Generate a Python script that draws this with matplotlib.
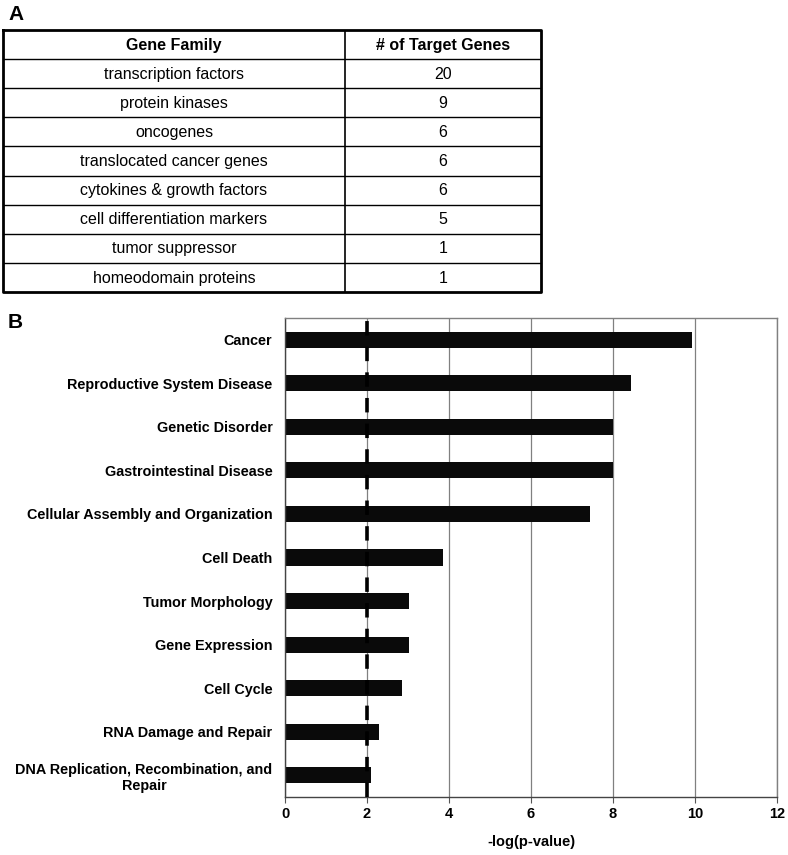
import matplotlib.pyplot as plt
import numpy as np

plt.rcParams['font.family'] = ['Liberation Sans', 'DejaVu Sans']

# Panel A table data
families = ["transcription factors", "protein kinases", "oncogenes",
            "translocated cancer genes", "cytokines & growth factors",
            "cell differentiation markers", "tumor suppressor",
            "homeodomain proteins"]
target_counts = [20, 9, 6, 6, 6, 5, 1, 1]
table_header = ["Gene Family", "# of Target Genes"]

# Panel B bar data
categories = ["Cancer", "Reproductive System Disease", "Genetic Disorder",
              "Gastrointestinal Disease", "Cellular Assembly and Organization",
              "Cell Death", "Tumor Morphology", "Gene Expression", "Cell Cycle",
              "RNA Damage and Repair",
              "DNA Replication, Recombination, and\nRepair"]
neg_log_p = [9.93, 8.44, 8.0, 8.0, 7.44, 3.85, 3.03, 3.03, 2.86, 2.29, 2.1]
threshold = 2.0
x_ticks = [0, 2, 4, 6, 8, 10, 12]

W, H = 788, 855
fig = plt.figure(figsize=(W / 100, H / 100), dpi=100)

# ---- Panel A: table ----
tax = fig.add_axes([3 / W, (H - 292) / H, 538 / W, 262 / H])
nrows = len(families) + 1
tax.set_xlim(0, 1)
tax.set_ylim(nrows, 0)
tax.axis('off')
col_split = (345 - 3) / 538
for r in range(1, nrows):
    tax.plot([0, 1], [r, r], color='black', lw=1.0)
tax.plot([col_split, col_split], [0, nrows], color='black', lw=1.2)
tax.plot([0, 1, 1, 0, 0], [0, 0, nrows, nrows, 0], color='black', lw=2.0,
         clip_on=False)

tax.text(col_split / 2, 0.52, table_header[0], ha='center', va='center',
         fontsize=11.5, fontweight='bold')
tax.text((1 + col_split) / 2, 0.52, table_header[1], ha='center', va='center',
         fontsize=11.5, fontweight='bold')
for i, (fam, cnt) in enumerate(zip(families, target_counts)):
    tax.text(col_split / 2, i + 1.52, fam, ha='center', va='center',
             fontsize=11.5)
    tax.text((1 + col_split) / 2, i + 1.52, str(cnt), ha='center', va='center',
             fontsize=11.5)

fig.text(8 / W, 1 - 15 / H, "A", fontsize=15, fontweight='bold', va='center')
fig.text(8 / W, 1 - 323 / H, "B", fontsize=15, fontweight='bold', va='center')

# ---- Panel B: bar chart ----
ax = fig.add_axes([285 / W, (H - 797) / H, 492 / W, 479 / H])
y = np.arange(len(categories))
ax.barh(y, neg_log_p, height=0.37, color='#0a0a0a', zorder=2)
ax.set_ylim(len(categories) - 0.5, -0.5)
ax.set_xlim(0, 12)
ax.set_xticks(x_ticks)
ax.set_xticklabels([str(t) for t in x_ticks], fontweight='bold', fontsize=10.5)
ax.set_yticks(y)
ax.set_yticklabels(categories, fontweight='bold', fontsize=10.4,
                   multialignment='center')
ax.tick_params(axis='y', length=0, pad=9)
ax.tick_params(axis='x', length=4, color='#555555', pad=3)
ax.grid(axis='x', color='#808080', lw=0.9, zorder=0)
ax.set_axisbelow(True)
for s in ax.spines.values():
    s.set_color('#808080')
    s.set_linewidth(1.0)
ax.spines['left'].set_color('#444444')
ax.spines['bottom'].set_color('#444444')

ax.axvline(threshold, color='black', lw=2.6, dashes=(4.0, 3.1), zorder=3)
ax.set_xlabel("-log(p-value)", fontweight='bold', fontsize=10.5, labelpad=10)

fig.savefig("out.png", dpi=100, facecolor='white')
